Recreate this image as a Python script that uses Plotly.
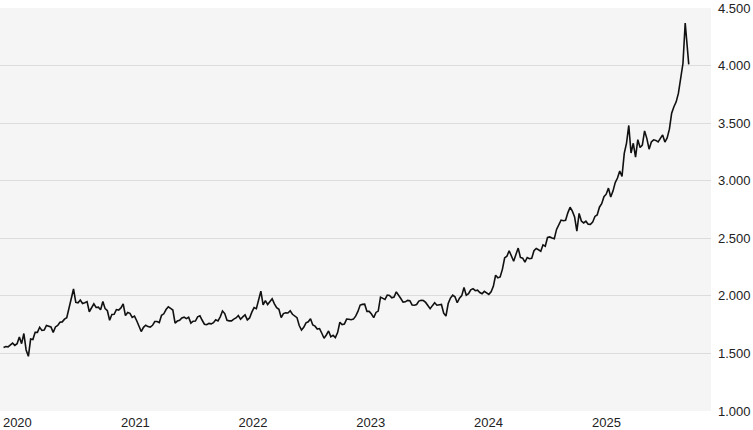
import pandas as pd
import plotly.graph_objects as go

# Weekly (Friday) closing values, per year
v2020 = [1552, 1560, 1557, 1571, 1589, 1570, 1584, 1643, 1585, 1673, 1530, 1475, 1625,
         1620, 1683, 1683, 1727, 1700, 1703, 1743, 1735, 1730, 1683, 1730, 1743, 1771,
         1774, 1798, 1810, 1902, 1975, 2060, 1944, 1940, 1964, 1934, 1940, 1950, 1862,
         1900, 1930, 1899, 1902, 1879, 1951, 1889, 1871, 1788, 1839, 1840, 1881, 1877]
v2021 = [1895, 1930, 1828, 1856, 1848, 1813, 1824, 1784, 1734, 1690, 1727, 1745, 1733,
         1729, 1744, 1777, 1777, 1768, 1831, 1844, 1881, 1905, 1891, 1877, 1764, 1781,
         1787, 1808, 1815, 1802, 1814, 1763, 1780, 1781, 1818, 1827, 1788, 1754, 1750,
         1761, 1757, 1767, 1793, 1783, 1818, 1868, 1846, 1788, 1783, 1783, 1798, 1808, 1829]
v2022 = [1797, 1817, 1835, 1791, 1808, 1859, 1898, 1889, 1970, 2040, 1921, 1958, 1925,
         1946, 1975, 1931, 1897, 1883, 1811, 1846, 1853, 1851, 1871, 1840, 1827, 1811,
         1742, 1703, 1727, 1766, 1775, 1802, 1747, 1737, 1712, 1716, 1675, 1632, 1660,
         1695, 1644, 1657, 1638, 1681, 1771, 1751, 1755, 1798, 1797, 1793, 1798, 1824]
v2023 = [1865, 1920, 1926, 1928, 1865, 1865, 1842, 1811, 1856, 1868, 1989, 1978, 1969,
         2007, 2004, 1983, 1990, 2035, 2011, 1977, 1946, 1948, 1961, 1958, 1921, 1919,
         1925, 1955, 1962, 1959, 1943, 1914, 1889, 1915, 1940, 1919, 1924, 1925, 1849,
         1825, 1933, 1981, 2006, 1992, 1940, 1980, 2002, 2072, 2005, 2019, 2053, 2063]
v2024 = [2045, 2049, 2029, 2018, 2039, 2024, 2013, 2035, 2083, 2179, 2156, 2165, 2230,
         2329, 2344, 2392, 2337, 2301, 2360, 2415, 2334, 2327, 2293, 2333, 2322, 2326,
         2392, 2411, 2400, 2387, 2443, 2431, 2507, 2512, 2503, 2497, 2577, 2621, 2658,
         2653, 2657, 2721, 2770, 2736, 2685, 2563, 2716, 2650, 2633, 2648, 2622, 2621]
v2025 = [2640, 2690, 2703, 2770, 2800, 2861, 2883, 2936, 2858, 2910, 2984, 3023, 3085,
         3037, 3237, 3327, 3480, 3241, 3325, 3204, 3357, 3289, 3310, 3432, 3368, 3274,
         3336, 3355, 3350, 3337, 3363, 3398, 3336, 3371, 3448, 3586, 3643, 3685, 3760,
         3886, 4018, 4370, 4112]
last_date = "2025-10-28"
last_value = 4010

year_starts = ["2020-01-03", "2021-01-01", "2022-01-07", "2023-01-06", "2024-01-05", "2025-01-03"]
year_vals = [v2020, v2021, v2022, v2023, v2024, v2025]

tick_years = ["2020", "2021", "2022", "2023", "2024", "2025"]
y_ticks = [1000, 1500, 2000, 2500, 3000, 3500, 4000, 4500]

dates = []
values = []
for s, vals in zip(year_starts, year_vals):
    dates.extend(pd.date_range(s, periods=len(vals), freq="7D"))
    values.extend(vals)
dates.append(pd.Timestamp(last_date))
values.append(last_value)

fig = go.Figure()
fig.add_trace(go.Scatter(x=dates, y=values, mode="lines",
                         line=dict(color="#111111", width=1.6), hoverinfo="skip"))

fig.update_layout(
    width=753, height=430,
    margin=dict(l=0, r=42, t=8, b=19),
    paper_bgcolor="white",
    plot_bgcolor="#f5f5f5",
    showlegend=False,
    separators=",.",
    font=dict(family="Liberation Sans, Arial, sans-serif", size=13, color="#222222"),
)
fig.update_xaxes(
    range=["2019-12-23", "2026-01-05"],
    tickvals=[f"{y}-01-01" for y in tick_years],
    ticktext=tick_years,
    ticklabelposition="outside right",
    ticklabelstandoff=2,
    showgrid=False, zeroline=False, showline=False, ticks="",
    automargin=False,
)
fig.update_yaxes(
    range=[1000, 4500],
    side="right",
    tickvals=y_ticks,
    tickformat=",d",
    showgrid=True, gridcolor="#dcdcdc", gridwidth=1,
    zeroline=False, showline=False, ticks="",
    ticklabelstandoff=6,
    automargin=False,
)

fig.write_html("out.html", config={"displayModeBar": False},
               post_script="document.body.style.margin='0';")
